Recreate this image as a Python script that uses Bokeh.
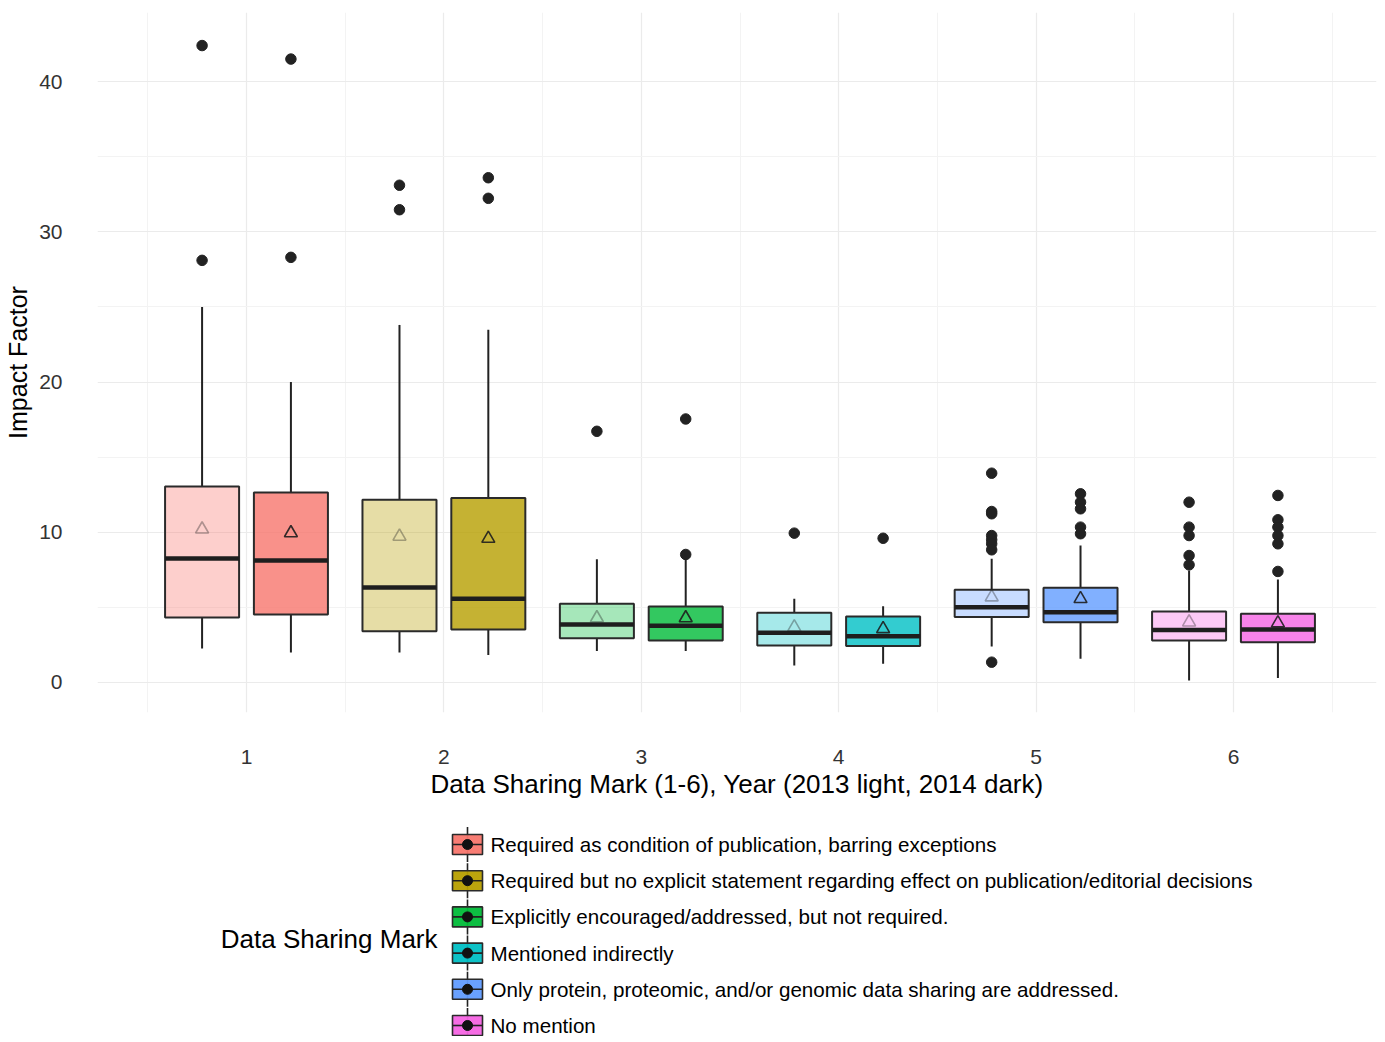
from bokeh.plotting import figure
from bokeh.models import Range1d, FixedTicker
from bokeh.layouts import column
from bokeh.core.properties import value
from bokeh.embed import file_html
from bokeh.resources import INLINE

# ---------------- data ----------------
marks = ["1", "2", "3", "4", "5", "6"]
legend_labels = [
    "Required as condition of publication, barring exceptions",
    "Required but no explicit statement regarding effect on publication/editorial decisions",
    "Explicitly encouraged/addressed, but not required.",
    "Mentioned indirectly",
    "Only protein, proteomic, and/or genomic data sharing are addressed.",
    "No mention",
]
colors = ["#F8766D", "#B79F00", "#00BA38", "#00BFC4", "#619CFF", "#F564E3"]

# 2013 (light)
lo_2013 = [2.26, 2.00, 2.09, 1.13, 2.40, 0.13]
q1_2013 = [4.33, 3.41, 2.95, 2.46, 4.35, 2.80]
med_2013 = [8.25, 6.32, 3.86, 3.31, 5.01, 3.50]
q3_2013 = [13.04, 12.16, 5.24, 4.64, 6.17, 4.73]
hi_2013 = [25.0, 23.8, 8.21, 5.57, 8.23, 7.45]
mean_2013 = [10.2, 9.72, 4.29, 3.68, 5.68, 4.01]
out_2013 = [[42.4, 28.1], [33.1, 31.47], [16.72], [9.94],
            [13.93, 11.38, 11.23, 9.78, 9.5, 9.23, 8.83, 1.35],
            [12.0, 10.34, 9.78, 8.45, 7.83]]

# 2014 (dark)
lo_2014 = [2.00, 1.82, 2.09, 1.24, 1.57, 0.29]
q1_2014 = [4.53, 3.53, 2.80, 2.42, 4.01, 2.68]
med_2014 = [8.12, 5.58, 3.77, 3.08, 4.68, 3.53]
q3_2014 = [12.65, 12.28, 5.06, 4.39, 6.30, 4.57]
hi_2014 = [20.0, 23.48, 8.30, 5.08, 9.12, 6.86]
mean_2014 = [9.95, 9.58, 4.29, 3.57, 5.57, 3.95]
out_2014 = [[41.5, 28.3], [33.6, 32.23], [17.54, 8.52], [9.6],
            [12.56, 12.0, 11.56, 10.34, 9.9],
            [12.45, 10.83, 10.34, 9.78, 9.23, 7.39]]

y_ticks = [0, 10, 20, 30, 40]

FONT = value("Liberation Sans")

# ---------------- main plot ----------------
p = figure(x_range=Range1d(0.2452, 6.7244), y_range=Range1d(-2.0, 44.6),
           frame_width=1279, frame_height=700,
           min_border_left=97, min_border_right=1, min_border_top=12, min_border_bottom=96,
           output_backend="svg", toolbar_location=None)
p.outline_line_color = None
p.background_fill_color = "white"

p.xaxis.ticker = FixedTicker(ticks=[i + 1 for i in range(len(marks))],
                             minor_ticks=[i + 0.5 for i in range(len(marks) + 1)])
p.xaxis.major_label_overrides = {i + 1: m for i, m in enumerate(marks)}
p.yaxis.ticker = FixedTicker(ticks=y_ticks, minor_ticks=[t + 5 for t in y_ticks[:-1]])

for ax in (p.xaxis[0], p.yaxis[0]):
    ax.axis_line_color = None
    ax.major_tick_line_color = None
    ax.minor_tick_line_color = None
    ax.major_tick_out = 0
    ax.major_tick_in = 0
    ax.minor_tick_out = 0
    ax.minor_tick_in = 0
    ax.major_label_text_font = "Liberation Sans"
    ax.major_label_text_font_size = "21px"
    ax.major_label_text_color = "#333333"
    ax.axis_label_text_font = "Liberation Sans"
    ax.axis_label_text_font_style = "normal"
    ax.axis_label_text_color = "black"

p.xaxis.axis_label = "Data Sharing Mark (1-6), Year (2013 light, 2014 dark)"
p.xaxis.axis_label_text_font_size = "26px"
p.xaxis.major_label_standoff = 37
p.xaxis.axis_label_standoff = 2
p.yaxis.axis_label = "Impact Factor"
p.yaxis.axis_label_text_font_size = "25px"
p.yaxis.major_label_standoff = 35
p.yaxis.axis_label_standoff = 4

for g in (p.xgrid[0], p.ygrid[0]):
    g.grid_line_color = "#EBEBEB"
    g.grid_line_width = 1.2
    g.minor_grid_line_color = "#F3F3F3"
    g.minor_grid_line_width = 1

half = 0.1875
offset = 0.225
series = [
    (-offset, 0.35, 0.35, lo_2013, q1_2013, med_2013, q3_2013, hi_2013, mean_2013, out_2013),
    (offset, 0.8, 0.9, lo_2014, q1_2014, med_2014, q3_2014, hi_2014, mean_2014, out_2014),
]
for off, falpha, talpha, lo, q1, med, q3, hi, mn, outs in series:
    xs = [i + 1 + off for i in range(len(marks))]
    p.segment(x0=xs, y0=q3, x1=xs, y1=hi, line_color="#222222", line_width=2)
    p.segment(x0=xs, y0=lo, x1=xs, y1=q1, line_color="#222222", line_width=2)
    p.quad(left=[x - half for x in xs], right=[x + half for x in xs], bottom=q1, top=q3,
           fill_color=colors, fill_alpha=falpha, line_color="#2a2a2a", line_width=2)
    p.segment(x0=[x - half for x in xs], y0=med, x1=[x + half for x in xs], y1=med,
              line_color="#1e1e1e", line_width=4.5)
    p.scatter(x=xs, y=mn, marker="triangle", size=13, fill_color=None,
              line_color="#1e1e1e", line_alpha=talpha, line_width=1.6)
    ox, oy = [], []
    for x, vals in zip(xs, outs):
        for v in vals:
            ox.append(x)
            oy.append(v)
    p.scatter(x=ox, y=oy, size=10.5, color="#222222")

# ---------------- legend (separate panel below, picture-pixel coordinates) ----------------
leg = figure(width=1377, height=228, x_range=Range1d(97, 1376), y_range=Range1d(1036, 808),
             output_backend="svg", toolbar_location=None,
             min_border_left=97, min_border_right=1, min_border_top=0, min_border_bottom=0)
leg.axis.visible = False
leg.grid.visible = False
leg.outline_line_color = None

row0, step = 844.0, 36.2
kx0, kx1, kxc = 452, 482, 467
rows = [row0 + i * step for i in range(len(legend_labels))]
leg.segment(x0=[kxc] * len(rows), y0=[r - 17.5 for r in rows], x1=[kxc] * len(rows),
            y1=[r + 17.5 for r in rows], line_color="#222222", line_width=1.6)
leg.quad(left=[kx0] * len(rows), right=[kx1] * len(rows),
         top=[r - 10 for r in rows], bottom=[r + 10 for r in rows],
         fill_color=colors, fill_alpha=0.95, line_color="#2a2a2a", line_width=1.6)
leg.segment(x0=[kx0] * len(rows), y0=rows, x1=[kx1] * len(rows), y1=rows,
            line_color="#222222", line_width=1.6)
leg.scatter(x=[kxc] * len(rows), y=rows, size=10, color="#111111")
leg.text(x=[490] * len(rows), y=rows, text=legend_labels, text_font=FONT,
         text_font_size="20.6px", text_baseline="middle", text_align="left", text_color="black")
leg.text(x=[437], y=[938], text=["Data Sharing Mark"], text_font=FONT,
         text_font_size="26px", text_baseline="middle", text_align="right", text_color="black")

layout = column(p, leg, spacing=0)
open("out.html", "w").write(file_html(layout, INLINE))
